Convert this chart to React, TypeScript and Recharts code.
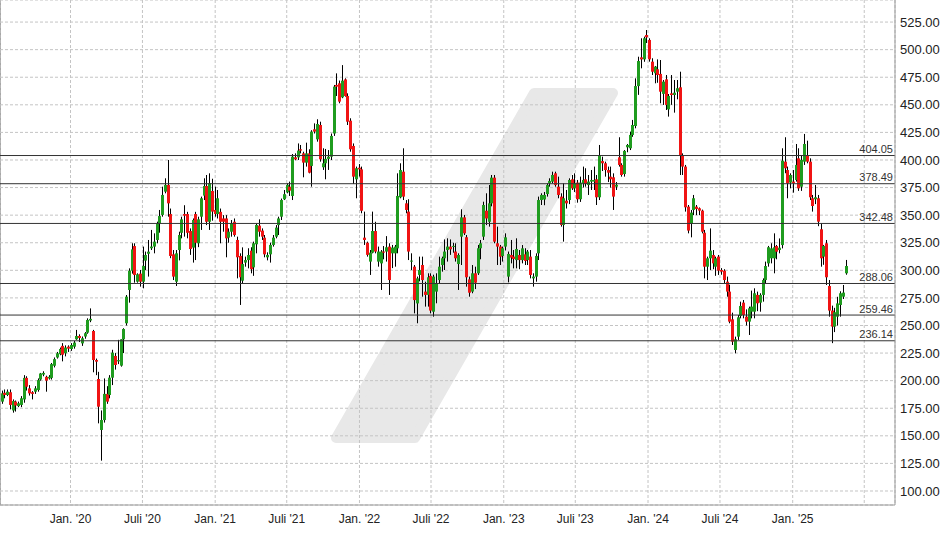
import { ComposedChart, Bar, XAxis, YAxis, CartesianGrid, ReferenceLine } from 'recharts';

// weekly candles: [open, high, low, close]
type Candle = [number, number, number, number];

const candles2019: Candle[] = [
  [181, 191, 179, 188.5], [189, 192, 184, 187], [187, 192, 186, 190], [189.5, 192, 174, 178], [173, 183, 171, 181.5],
  [181, 182, 172, 177.5], [177, 181, 176, 179.5], [178, 186, 176, 184], [183, 205, 180, 202.5], [202.5, 204, 191, 194.5],
  [193, 196, 186.5, 188.5], [189.5, 190.5, 183, 188], [190, 195, 188, 193], [191.5, 202, 190, 200.5], [201, 207, 200, 206.5],
  [205.5, 208.5, 204, 207], [203.5, 204.5, 190, 200], [202, 205, 201, 203.5], [202.5, 216, 201, 215], [213.5, 221, 212, 219.5],
  [221, 226, 220, 224.8], [224, 230, 223, 228.7], [231.5, 234, 217.5, 223.5], [224.8, 232, 222, 230], [230.8, 232, 226, 229],
];

const candles2020: Candle[] = [
  [228.7, 234, 227, 232.3], [230.8, 236, 229, 234.5], [237.5, 246, 237, 240.5], [240.5, 242, 235, 238.7], [233.8, 240, 231.5, 238.4],
  [240, 244, 238, 243], [243.5, 256.5, 242.5, 255], [254.5, 265.5, 253, 256], [245, 246, 207.6, 218.7], [218.7, 220, 205, 217.2],
  [201.5, 208, 161.3, 176.4], [155.3, 173, 127.5, 164.3], [164.3, 202, 162, 188], [188, 195, 179, 181], [187, 205, 184, 202.7],
  [202.7, 228, 196, 225.4], [222.4, 225, 210, 214.2], [217.5, 237, 215, 218.6], [213.6, 237.5, 212.7, 237.5], [237.5, 247.5, 225, 246.8],
  [252, 277.6, 250, 276.1], [282.2, 301.8, 270.7, 299.7], [299.7, 324.5, 297, 319], [322, 324.5, 288.8, 295.8], [289.7, 297.3, 288.8, 296.4],
  [297, 300.3, 285.2, 289.7], [289.7, 321.5, 283.7, 303.9], [308.8, 317, 300.3, 313.9], [315, 327.5, 294.3, 316.9], [320, 336.6, 318.4, 321.5],
  [321.5, 333.5, 315.4, 326], [327.5, 344.1, 324.5, 342.6], [342.6, 354.7, 334.1, 349.2], [350.2, 375.8, 348.6, 368.3], [371.3, 383.4, 369.8, 377.4],
  [377.4, 400, 348.6, 360.7], [351, 356, 311, 313], [314.5, 318.4, 291.2, 294.3], [289.7, 318.4, 285.8, 315.4], [318.4, 335, 309, 332],
  [334, 348.6, 329, 346.2], [351, 359, 330.5, 349.5], [351, 353, 329, 334], [335.6, 338, 314, 319.3], [320.6, 347, 307, 345.6],
  [351, 353, 309.3, 325], [324.5, 348.6, 321, 346.2], [348.6, 366.8, 336.6, 365.3], [367.7, 383.4, 363.7, 376.4], [376.4, 386.4, 341, 344],
  [344, 387.9, 336.6, 378.9], [371.9, 383, 345, 353.2], [354.7, 375.8, 348.6, 351],
];

const candles2021: Candle[] = [
  [351, 372.8, 347, 365.3], [353, 356, 324.5, 344], [347, 350, 335, 344], [347, 350, 311.8, 329], [329.6, 338, 325, 335],
  [335, 345.6, 330.5, 342.6], [344, 347, 330.5, 332], [327.5, 330.5, 292.7, 311.8], [313, 315.4, 268.6, 293.7], [290.6, 320.8, 287.6, 305.7],
  [307, 312.4, 303.3, 309.3], [309.3, 320, 301.8, 313.9], [317.8, 320.9, 297.3, 301], [302.7, 326, 295, 324.5], [323.6, 342.6, 315.4, 341.1],
  [340.5, 346.2, 330.5, 335], [336, 338, 327.5, 330.5], [329.6, 332, 311.8, 314.5], [311.8, 316.3, 309, 313.9], [314.5, 325, 307, 323],
  [323, 332, 321.5, 329.6], [330.5, 341, 329, 338.7], [341, 348.6, 332, 347], [348.6, 365, 345.6, 363.7], [364.4, 372.8, 363.7, 369],
  [370.7, 378.9, 369.8, 377.4], [375.8, 380.4, 367.4, 372.2], [367.4, 405.4, 363.7, 403], [402.4, 406, 399.8, 400.6], [402.4, 415, 400, 408.5],
  [409.7, 413.6, 406, 408.5], [406, 407.5, 384.3, 397.6], [397.6, 415.7, 394, 406], [406, 409.7, 387.9, 388.5], [394.6, 427, 375.8, 425.7],
  [427.8, 433.2, 424, 425.7], [418.7, 436.9, 416.6, 432.6], [431.7, 434.7, 398.5, 400.6], [393.4, 410.6, 391, 397], [397, 410, 382.5, 401],
  [401, 409, 391, 403], [403, 424, 400, 421.8], [424, 468, 421.8, 466.5], [468, 478.5, 458, 466.5], [469.5, 472, 451.4, 452.9],
  [456.8, 486, 456, 471.9], [473, 474, 457.4, 458], [458, 460.4, 431.7, 434.7], [435.6, 437.8, 407.5, 409.7], [412.7, 415, 378.3, 384.9],
  [382.5, 394, 365.3, 392.5], [393, 396.3, 385, 391.5],
];

const candles2022: Candle[] = [
  [391.5, 394, 351.7, 354], [329.6, 353.2, 323, 327.5], [325, 326, 312.4, 314], [307.9, 318.4, 295.8, 316], [316, 353.2, 315.4, 335.6],
  [335.6, 344, 315.4, 317], [307.9, 321.5, 303.3, 317], [306.3, 318.4, 282.2, 317], [317, 322, 310, 316], [317, 331, 307.9, 320.9],
  [321.5, 324.5, 277.7, 291.2], [315.4, 323, 302, 320.6], [315.4, 323, 303.3, 321.5], [319.9, 387.9, 315.4, 367.4], [366.2, 397, 365.3, 390.9],
  [389.4, 410.6, 363.7, 366.8], [360.7, 363.7, 351.7, 354.7], [353.2, 364.4, 309.3, 317], [307.9, 315.4, 300.3, 308.8], [303.3, 304.8, 261, 273],
  [270, 294.3, 252, 292.7], [295.8, 312.4, 290, 300.3], [304.8, 312.4, 276.1, 291.2], [280.7, 289.7, 267.1, 277.7], [277.7, 297.3, 267.1, 293.7],
  [294.9, 297.3, 261, 263.5], [262.5, 296, 258, 294.3], [280.7, 297.3, 270.1, 288.2], [291.2, 312.4, 288.2, 303.3], [304.8, 312.4, 298.8, 310.9],
  [310.9, 328, 300.3, 317], [318.4, 329, 307.9, 321.5], [321.5, 328, 314, 319], [321.5, 325, 316, 322.1], [317, 324.5, 307.9, 310.9],
  [305.7, 315.4, 282.2, 313.9], [330.5, 355.3, 304.8, 348], [348, 350.2, 332, 333.5], [330, 332, 285.2, 293.7], [291.8, 294.3, 276.1, 279.7],
  [280.7, 304.8, 279.2, 297.3], [297.3, 303.3, 283, 288.8], [297.3, 323, 295.8, 320], [320, 327.5, 310, 324.5], [330.5, 362.2, 327.5, 359.2],
  [354, 369.8, 341, 347], [344, 377.3, 339.6, 360.7], [360.7, 386.4, 358, 384], [384, 386.4, 324.5, 326], [324.5, 339.6, 304.8, 321.5],
  [321.5, 323, 304.8, 312.4], [313, 321.5, 307.9, 320],
];

const candles2023: Candle[] = [
  [321.5, 333.5, 318, 329.9], [294.3, 317, 289.1, 314.8], [313.9, 327.5, 306.3, 311.5], [312.4, 318.4, 301.8, 310.3], [309.3, 329, 301.8, 319.3],
  [313.9, 318.4, 301, 309.3], [309.3, 322.9, 306.3, 319.9], [314.5, 320, 304.8, 308.5], [309.3, 318.4, 304.8, 317], [312.4, 318.4, 292.7, 295.8],
  [292.7, 297.3, 285.2, 294.3], [294.3, 315.4, 289.7, 313], [315.4, 366.8, 309.3, 363.7], [363.7, 369.8, 359.2, 368.3], [364.2, 371, 359, 368.3],
  [369.2, 378.9, 366.8, 377.3], [378.9, 383.4, 375.8, 381], [380.4, 389.4, 378.9, 386.4], [387.9, 389.4, 375.8, 377.3], [375.8, 384.9, 365.3, 368.3],
  [366.8, 369.8, 339.6, 341.1], [341.1, 378.9, 326, 365.3], [363.1, 372.8, 356, 360.7], [363.7, 383.4, 360, 381.9], [382.5, 386.4, 372.8, 374.3],
  [374.3, 387.9, 371, 378.9], [379.5, 381.9, 361.3, 364.4], [364.4, 384.9, 362, 379.5], [378.9, 394, 375, 381.9], [382.5, 392.5, 375.8, 378.3],
  [377.3, 386.4, 368.3, 380.4], [380.4, 390.9, 372.8, 381.9], [380.4, 394, 372.8, 381.9], [382.5, 386.4, 359.2, 366.2], [366.2, 413.6, 363.7, 404.5],
  [399, 403, 390, 397], [397, 398.5, 384.9, 390.9], [390.9, 394, 380, 388.5], [384.9, 394, 375, 382.5], [384.3, 387.9, 354.7, 366.8],
  [375.8, 380, 372.8, 377.5], [402.4, 420.6, 394, 395.5], [395.5, 397, 384.9, 386.4], [387.3, 409, 384.9, 408.2], [411.5, 414.5, 407, 413.6],
  [410.6, 425.7, 409, 422.7], [422.7, 436.3, 421, 431.7], [430.8, 474, 428.7, 467], [467, 493.6, 459, 489.7], [493, 510.3, 483.1, 491.2],
  [491.2, 511.8, 489, 510.3], [513.3, 517.8, 506, 511.2],
];

const candles2024: Candle[] = [
  [508.8, 510.3, 489.1, 491.2], [489.1, 492.2, 477, 480], [478.6, 485.2, 469.5, 484.6], [482.2, 491.2, 470, 477], [478, 490.6, 451.4, 461.9],
  [459.9, 472.5, 449.9, 471], [473.1, 477, 445.3, 449.9], [445.9, 459.8, 439.3, 458], [460.4, 477, 450, 458.9], [458.9, 472.5, 442.9, 461],
  [461.9, 472.5, 455, 465], [465.9, 480, 386.4, 403.6], [404.5, 406, 386.4, 394], [394, 395.5, 353.2, 357.1], [357.7, 359.2, 333.5, 336],
  [342, 354.7, 329.9, 352.3], [354.7, 368.3, 350, 365.3], [357.7, 359.2, 350, 355.6], [356.2, 357, 350, 354.1], [354.1, 355, 333.5, 335],
  [334.1, 336.6, 292.7, 303.3], [303.3, 312.4, 291.2, 310.9], [310.9, 338, 300.3, 317.8], [313.9, 318.4, 301, 306.3], [303.3, 312.4, 295, 310.9],
  [312.4, 313.9, 295.8, 299.7], [300.3, 302, 296, 298.8], [299.7, 301, 288.2, 291.2], [289.7, 294.3, 276.1, 280.7], [280.7, 287, 252, 253.5],
  [255.6, 261.6, 232.3, 235.4], [227.8, 239.9, 224.8, 237.5], [239.9, 259.5, 236.9, 257.4], [258.6, 271.6, 256.5, 267.7], [270.7, 273.1, 256.5, 259.5],
  [258, 264.6, 250, 253.5], [253.5, 267.1, 241.4, 265.6], [262.5, 281.6, 256.5, 267.1], [262.5, 283.7, 256.5, 279.2], [277.7, 280.7, 263, 270.1],
  [270.7, 279.2, 262.5, 277.7], [277.7, 292.7, 271.6, 291.2], [291.2, 307.9, 288, 303.9], [306.3, 322.1, 303.3, 320.9], [310.9, 324.5, 306.3, 319.9],
  [310.9, 333.5, 297.3, 320.9], [322, 323, 310, 316.9], [318.4, 328.9, 315.4, 320.5], [322.9, 410.6, 319.9, 399.4], [398.5, 420.6, 388, 392.5],
  [390.9, 394, 365.3, 378.9], [379.5, 387.9, 374.3, 386.4],
];

const candles2025: Candle[] = [
  [380.4, 390.9, 370.4, 378.9], [381.9, 414.5, 380.4, 395.5], [401.5, 410.6, 372, 374.3], [375.8, 404.5, 372, 400], [398.5, 423.6, 395.5, 414.5],
  [404.5, 417.5, 397, 398.5], [398.5, 401.5, 363.7, 366.2], [365.3, 368.3, 353.2, 358.3], [364.4, 377.3, 360, 366.2], [365.3, 368.3, 340, 344.1],
  [337.2, 342.6, 303.3, 310.9], [312.4, 323, 305, 322.1], [324.5, 327.5, 286.7, 293.7], [285.8, 291.2, 258, 263.5], [263.5, 268, 234, 249],
  [249, 266, 244, 262], [258, 276, 250, 270], [268.6, 281, 258, 279.2], [276.1, 286.7, 274, 279.8], [297.3, 309.4, 296, 303.9],
];

// first candle, in days from 1 Jan 2020
const firstWeekDay = -174;

const tickDays = [0, 182, 366, 547, 731, 912, 1096, 1277, 1461, 1643, 1827, 2008];
const tickLabels = ["Jan. '20", "Juli '20", "Jan. '21", "Juli '21", "Jan. '22", "Juli '22", "Jan. '23", "Juli '23", "Jan. '24", "Juli '24", "Jan. '25", ''];

const priceTicks = [100, 125, 150, 175, 200, 225, 250, 275, 300, 325, 350, 375, 400, 425, 450, 475, 500, 525];
const levels = [404.05, 378.49, 342.48, 288.06, 259.46, 236.14];

const allCandles = [...candles2019, ...candles2020, ...candles2021, ...candles2022, ...candles2023, ...candles2024, ...candles2025];
const data = allCandles.map(([open, high, low, close], i) => ({
  t: firstWeekDay + i * 7,
  open,
  high,
  low,
  close,
  range: [low, high],
}));

const FONT = '"Liberation Sans", Arial, sans-serif';
const UP = '#1f9c1f';
const DOWN = '#f01414';

const CandleShape = (props: any) => {
  const { x, y, width, height, payload } = props;
  if (!payload) return null;
  const { open, high, low, close } = payload;
  const top = Math.min(y, y + height);
  const h = Math.abs(height);
  const span = high - low || 1;
  const py = (v: number) => top + ((high - v) / span) * h;
  const cx = Math.round(x + width / 2) + 0.5;
  const bTop = py(Math.max(open, close));
  const bBot = py(Math.min(open, close));
  return (
    <g>
      <line x1={cx} x2={cx} y1={top} y2={top + h} stroke="#000" strokeWidth={1} />
      <rect x={cx - 1.5} y={bTop} width={3} height={Math.max(bBot - bTop, 1)} fill={close >= open ? UP : DOWN} />
    </g>
  );
};

const LevelLabel = (props: any) => {
  const { viewBox, caption } = props;
  if (!viewBox) return null;
  return (
    <text x={viewBox.x + viewBox.width - 2} y={viewBox.y - 2.5} textAnchor="end" fontSize={11} fill="#333" fontFamily={FONT}>
      {caption}
    </text>
  );
};

const App = () => {
  return (
    <div style={{ position: 'absolute', left: 0, top: 0, width: 948, height: 534, background: '#fff', fontFamily: FONT }}>
      {/* watermark */}
      <svg width={948} height={534} style={{ position: 'absolute', left: 0, top: 0 }}>
        <polygon
          points="534,93 613,93 415,438 336,438"
          fill="#e8e8e8"
          stroke="#e8e8e8"
          strokeWidth={10}
          strokeLinejoin="round"
        />
      </svg>
      <div style={{ position: 'absolute', left: 0, top: 0, width: 1, height: 505, background: '#a6a6a6' }} />
      <ComposedChart width={948} height={534} data={data} margin={{ top: 0, right: 0, bottom: 0, left: 0 }}>
        <CartesianGrid stroke="#c4c4c4" strokeDasharray="3 2" />
        <XAxis
          dataKey="t"
          type="number"
          domain={[-178.35, 2085.8]}
          allowDataOverflow
          ticks={tickDays}
          interval={0}
          tickFormatter={(v: number) => tickLabels[tickDays.indexOf(v)] ?? ''}
          height={29}
          tickLine={false}
          tickSize={6}
          tickMargin={3}
          axisLine={{ stroke: '#9a9a9a' }}
          tick={{ fontSize: 12, fill: '#222', fontFamily: FONT }}
        />
        <YAxis
          orientation="right"
          type="number"
          domain={[87.3, 545]}
          allowDataOverflow
          ticks={priceTicks}
          interval={0}
          width={53}
          tickFormatter={(v: number) => v.toFixed(2)}
          tickLine={false}
          tickSize={3}
          tickMargin={2}
          axisLine={{ stroke: '#9a9a9a' }}
          tick={{ fontSize: 13, fill: '#222', fontFamily: FONT }}
        />
        {levels.map((v) => (
          <ReferenceLine key={v} y={v} stroke="#333" strokeWidth={1} label={<LevelLabel caption={v.toFixed(2)} />} />
        ))}
        <Bar dataKey="range" barSize={3} shape={<CandleShape />} isAnimationActive={false} />
      </ComposedChart>
    </div>
  );
};

export default App;
